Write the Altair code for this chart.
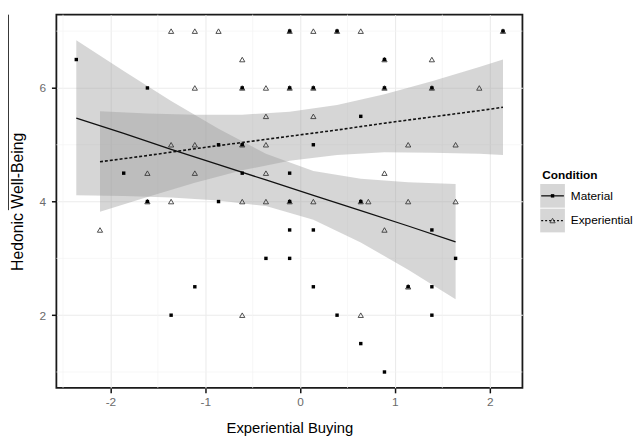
import altair as alt
import pandas as pd

conditions = ["Material", "Experiential"]

# scatter points (Material = filled squares, Experiential = open triangles)
material_x = [-0.11, 0.39, 2.14,
              -2.36, 0.89,
              -1.61, -0.61, -0.11, 0.14, 0.89, 1.39,
              0.64,
              -0.86, -0.61, 0.14,
              -1.86, -0.61, -0.11,
              -1.61, -0.86, -0.11, 0.64,
              -0.11, 0.14, 1.39,
              -0.36, -0.11, 1.64,
              -1.11, 0.14, 1.14, 1.39,
              -1.36, 0.39, 1.39,
              0.64,
              0.89]
material_y = [7, 7, 7,
              6.5, 6.5,
              6, 6, 6, 6, 6, 6,
              5.5,
              5, 5, 5,
              4.5, 4.5, 4.5,
              4, 4, 4, 4,
              3.5, 3.5, 3.5,
              3, 3, 3,
              2.5, 2.5, 2.5, 2.5,
              2, 2, 2,
              1.5,
              1]
experiential_x = [-1.36, -1.11, -0.86, -0.11, 0.14, 0.39, 0.64, 2.14,
                  -0.61, 0.89, 1.39,
                  -1.11, -0.61, -0.36, -0.11, 0.14, 0.89, 1.39, 1.89,
                  -0.36, 0.14,
                  -1.36, -1.11, -0.61, -0.36, 1.14, 1.64,
                  -1.61, -1.11, -0.36, 0.89,
                  -1.61, -1.36, -0.61, -0.36, -0.11, 0.14, 0.64, 0.72, 1.14, 1.64,
                  -2.11, 0.89,
                  1.14,
                  -0.61, 0.64]
experiential_y = [7, 7, 7, 7, 7, 7, 7, 7,
                  6.5, 6.5, 6.5,
                  6, 6, 6, 6, 6, 6, 6, 6,
                  5.5, 5.5,
                  5, 5, 5, 5, 5, 5,
                  4.5, 4.5, 4.5, 4.5,
                  4, 4, 4, 4, 4, 4, 4, 4, 4, 4,
                  3.5, 3.5,
                  2.5,
                  2, 2]

# fitted lines with confidence bands
material_fit_x = [-2.36, -1.86, -1.36, -0.86, -0.36, 0.14, 0.64, 1.14, 1.64]
material_fit = [5.47, 5.20, 4.92, 4.65, 4.38, 4.11, 3.84, 3.57, 3.29]
material_lower = [4.11, 4.10, 4.07, 4.02, 3.92, 3.68, 3.28, 2.80, 2.28]
material_upper = [6.84, 6.30, 5.77, 5.28, 4.84, 4.54, 4.40, 4.34, 4.31]

experiential_fit_x = [-2.11, -1.61, -1.11, -0.61, -0.11, 0.39, 0.89, 1.39, 1.89, 2.14]
experiential_fit = [4.70, 4.81, 4.93, 5.04, 5.15, 5.26, 5.38, 5.49, 5.60, 5.66]
experiential_lower = [3.82, 4.08, 4.33, 4.55, 4.72, 4.82, 4.87, 4.86, 4.84, 4.82]
experiential_upper = [5.59, 5.55, 5.53, 5.53, 5.58, 5.70, 5.89, 6.12, 6.37, 6.50]

x_ticks = [-2, -1, 0, 1, 2]
y_ticks = [2, 4, 6]
x_minor = [-2.5, -1.5, -0.5, 0.5, 1.5]
y_minor = [1, 3, 5, 7]
x_domain = [-2.57, 2.345]
y_domain = [0.72, 7.29]

FONT = "Liberation Sans"

points = pd.DataFrame({
    "x": material_x + experiential_x,
    "y": material_y + experiential_y,
    "Condition": [conditions[0]] * len(material_x) + [conditions[1]] * len(experiential_x),
})
fits = pd.DataFrame({
    "x": material_fit_x + experiential_fit_x,
    "fit": material_fit + experiential_fit,
    "lo": material_lower + experiential_lower,
    "hi": material_upper + experiential_upper,
    "Condition": [conditions[0]] * len(material_fit_x) + [conditions[1]] * len(experiential_fit_x),
})
minor_x_df = pd.DataFrame({"x": x_minor})
minor_y_df = pd.DataFrame({"y": y_minor})
legend_df = pd.DataFrame({"Condition": conditions})

xs = alt.Scale(domain=x_domain, nice=False, zero=False)
ys = alt.Scale(domain=y_domain, nice=False, zero=False)
hyphen_labels = "datum.value < 0 ? '-' + abs(datum.value) : '' + datum.value"
x_axis = alt.Axis(values=x_ticks, title="Experiential Buying", grid=True, labelExpr=hyphen_labels)
y_axis = alt.Axis(values=y_ticks, title="Hedonic Well-Being", grid=True)


def X(field="x"):
    return alt.X(f"{field}:Q", scale=xs, axis=x_axis, title="Experiential Buying")


def Y(field="y"):
    return alt.Y(f"{field}:Q", scale=ys, axis=y_axis, title="Hedonic Well-Being")


minor_v = alt.Chart(minor_x_df).mark_rule(color="#f3f3f3", strokeWidth=0.7).encode(x=X())
minor_h = alt.Chart(minor_y_df).mark_rule(color="#f3f3f3", strokeWidth=0.7).encode(y=Y())

band = alt.Chart(fits).mark_area(color="#999999", opacity=0.4).encode(
    x=X(), y=Y("lo"), y2="hi", detail="Condition:N"
)

line_mat = alt.Chart(fits).transform_filter(
    alt.datum.Condition == conditions[0]
).mark_line(color="#111111", strokeWidth=1.3).encode(x=X(), y=Y("fit"))

line_exp = alt.Chart(fits).transform_filter(
    alt.datum.Condition == conditions[1]
).mark_line(color="#111111", strokeWidth=1.6, strokeDash=[3, 2]).encode(x=X(), y=Y("fit"))

pts_exp = alt.Chart(points).transform_filter(
    alt.datum.Condition == conditions[1]
).mark_point(shape="triangle-up", filled=False, size=28, color="#3a3a3a", strokeWidth=0.9, opacity=1).encode(
    x=X(), y=Y()
)
pts_mat = alt.Chart(points).transform_filter(
    alt.datum.Condition == conditions[0]
).mark_point(shape="square", filled=True, size=12, color="#000000", opacity=1).encode(
    x=X(), y=Y()
)

# stray vertical line at the far left of the reference
stray = alt.Chart(legend_df).transform_filter(
    alt.datum.Condition == conditions[0]
).mark_rule(color="#333333", strokeWidth=1).encode(
    x=alt.value(-48.5), y=alt.value(0), y2=alt.value(198)
)

# hand-drawn legend
legend_layers = [
    alt.Chart(legend_df).transform_filter(alt.datum.Condition == conditions[0]).mark_text(
        text="Condition", align="left", baseline="middle", fontWeight="bold", fontSize=12,
        font=FONT, color="#000000"
    ).encode(x=alt.value(492), y=alt.value(162))
]
for i, cond in enumerate(conditions):
    base = alt.Chart(legend_df).transform_filter(alt.datum.Condition == cond)
    yc = 183.5 + 25 * i
    legend_layers.append(
        base.mark_rect(color="#999999", opacity=0.4).encode(
            x=alt.value(490), x2=alt.value(515), y=alt.value(yc - 12), y2=alt.value(yc + 12)
        )
    )
    if i == 0:
        legend_layers.append(
            base.mark_rule(color="#111111", strokeWidth=1.3).encode(
                x=alt.value(491), x2=alt.value(514), y=alt.value(yc)
            )
        )
        legend_layers.append(
            base.mark_point(shape="square", filled=True, size=12, color="#000000", opacity=1).encode(
                x=alt.value(502.5), y=alt.value(yc)
            )
        )
    else:
        legend_layers.append(
            base.mark_rule(color="#111111", strokeWidth=1.3, strokeDash=[2, 2]).encode(
                x=alt.value(491), x2=alt.value(514), y=alt.value(yc)
            )
        )
        legend_layers.append(
            base.mark_point(shape="triangle-up", filled=False, size=28, color="#3a3a3a",
                            strokeWidth=0.9, opacity=1).encode(
                x=alt.value(502.5), y=alt.value(yc)
            )
        )
    legend_layers.append(
        base.mark_text(align="left", baseline="middle", fontSize=12, font=FONT, color="#000000").encode(
            x=alt.value(521), y=alt.value(yc), text="Condition:N"
        )
    )

chart = alt.layer(
    minor_v, minor_h, band, line_mat, line_exp, pts_exp, pts_mat, stray, *legend_layers
).properties(
    width=472,
    height=378,
    padding={"left": 49, "top": 4, "right": 114, "bottom": 48},
    autosize=alt.AutoSizeParams(type="none"),
).configure_view(
    stroke="#1a1a1a", strokeWidth=1.8
).configure_axis(
    domain=False,
    gridColor="#ebebeb",
    gridWidth=1.1,
    tickColor="#111111",
    tickSize=5,
    tickWidth=1.5,
    labelColor="#6b6b6b",
    labelFont=FONT,
    labelFontSize=12,
    titleFont=FONT,
    titleFontWeight="normal",
    titleColor="#000000",
).configure_axisX(
    labelPadding=4,
    titleFontSize=15,
    titlePadding=13,
).configure_axisY(
    labelPadding=6,
    titleFontSize=16,
    titlePadding=14,
)

chart.save("out.html", embed_options={"renderer": "svg", "actions": False})
